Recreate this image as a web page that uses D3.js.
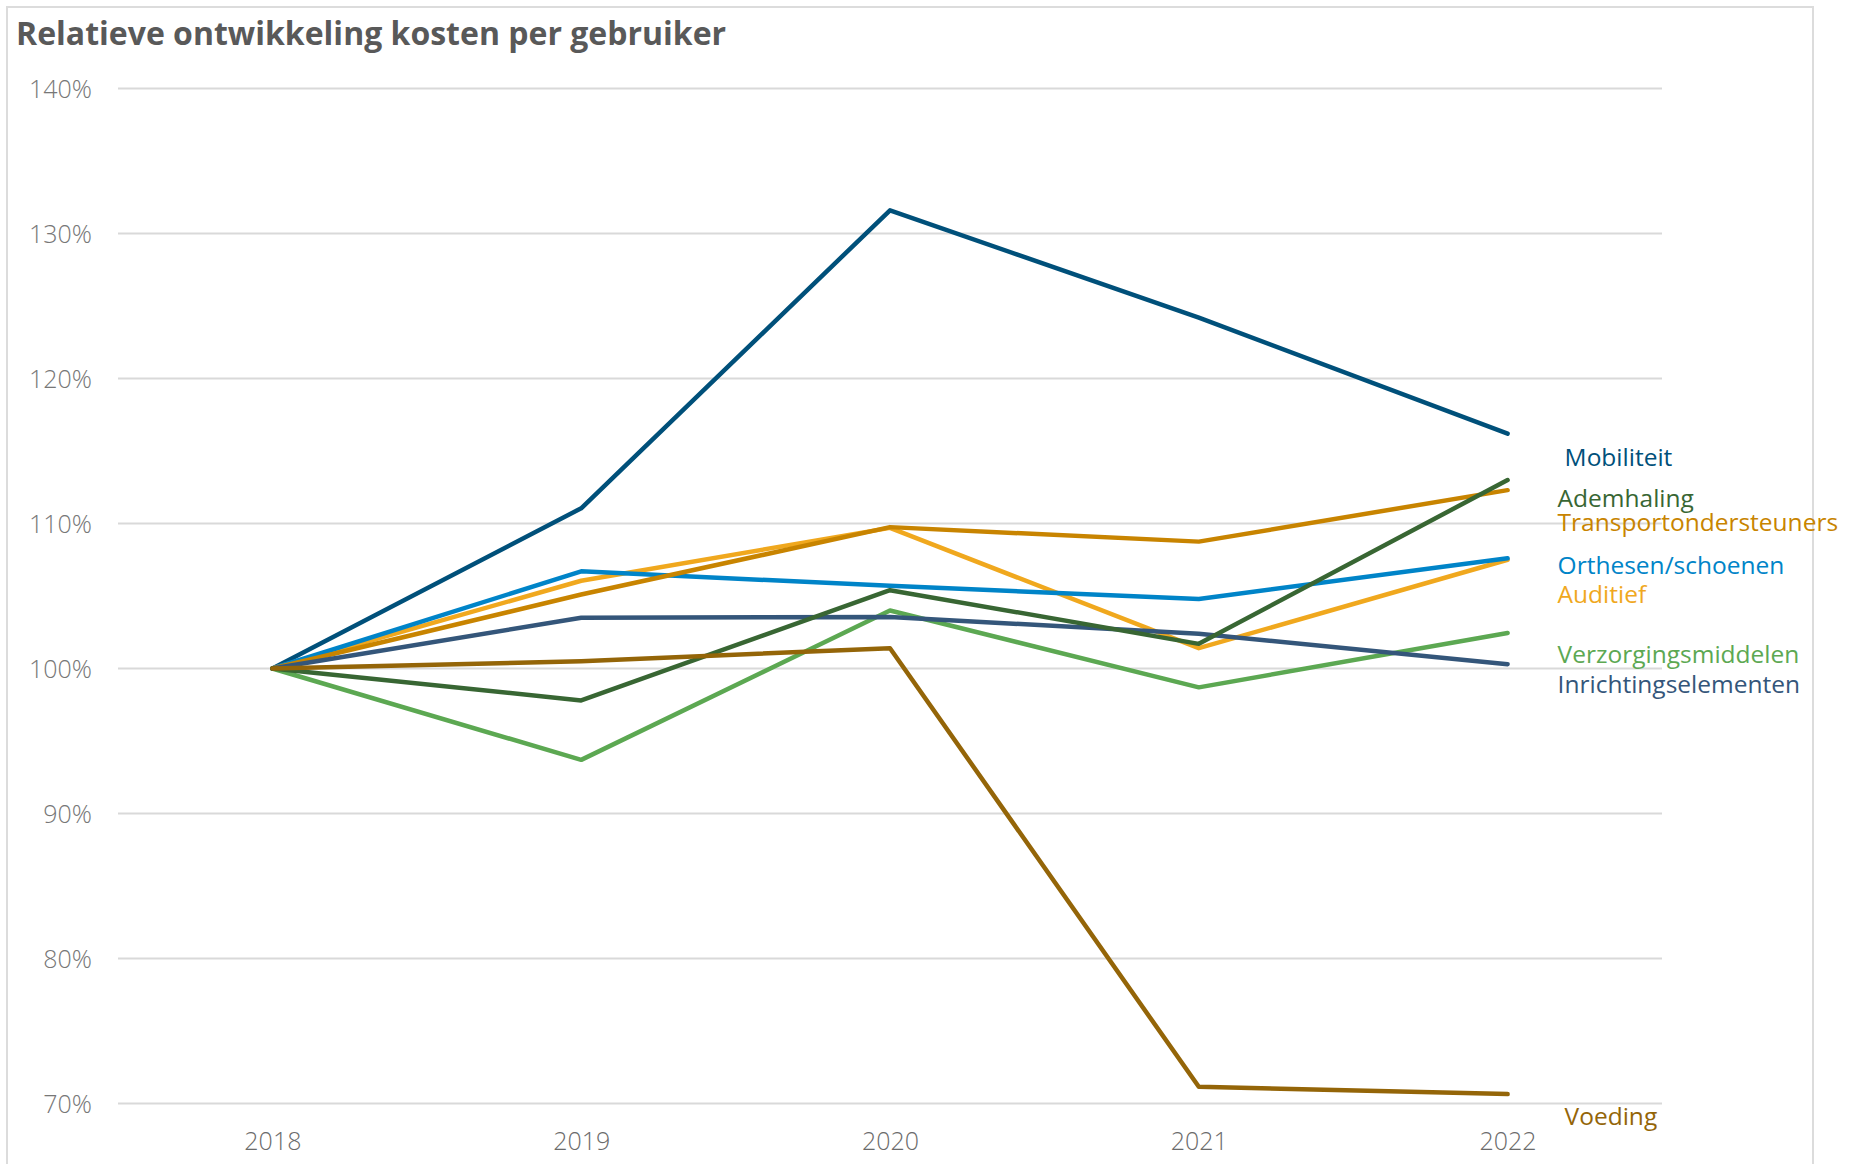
<!DOCTYPE html>
<html>
<head>
<meta charset="utf-8">
<script src="https://cdn.jsdelivr.net/npm/d3@7"></script>
<style>
  body { margin: 0; background: #fff; }
  text { font-family: "Open Sans", sans-serif; }
</style>
</head>
<body>
<svg id="chart"></svg>
<script>
var width = 1849;
var height = 1164;

// data
var years = ["2018", "2019", "2020", "2021", "2022"];
var yTicks = [70, 80, 90, 100, 110, 120, 130, 140];

var series = ["Mobiliteit", "Ademhaling", "Transportondersteuners", "Orthesen/schoenen",
              "Auditief", "Verzorgingsmiddelen", "Inrichtingselementen", "Voeding"];

var mobiliteit        = [100, 111.05, 131.6, 124.2, 116.2];
var ademhaling        = [100, 97.8, 105.4, 101.7, 113.0];
var transport         = [100, 105.1, 109.75, 108.75, 112.3];
var orthesen          = [100, 106.7, 105.7, 104.8, 107.6];
var auditief          = [100, 106.05, 109.7, 101.4, 107.5];
var verzorging        = [100, 93.7, 104.0, 98.7, 102.45];
var inrichting        = [100, 103.5, 103.55, 102.4, 100.3];
var voeding           = [100, 100.5, 101.4, 71.15, 70.65];

// where the end labels sit (in % units)
var labelAt = [114.0, 111.15, 109.45, 106.5, 104.55, 100.4, 98.3, 68.5];

var colors = {
  "Mobiliteit": "#00507a",
  "Ademhaling": "#386633",
  "Transportondersteuners": "#c88400",
  "Orthesen/schoenen": "#0084c8",
  "Auditief": "#f0a81e",
  "Verzorgingsmiddelen": "#5ca852",
  "Inrichtingselementen": "#34567a",
  "Voeding": "#946508"
};

var values = {
  "Mobiliteit": mobiliteit,
  "Ademhaling": ademhaling,
  "Transportondersteuners": transport,
  "Orthesen/schoenen": orthesen,
  "Auditief": auditief,
  "Verzorgingsmiddelen": verzorging,
  "Inrichtingselementen": inrichting,
  "Voeding": voeding
};

// drawing order (last on top)
var drawOrder = ["Mobiliteit", "Auditief", "Orthesen/schoenen", "Transportondersteuners",
                 "Verzorgingsmiddelen", "Inrichtingselementen", "Ademhaling", "Voeding"];

var svg = d3.select("#chart")
  .attr("width", width)
  .attr("height", height);

// frame
svg.append("rect")
  .attr("x", 7).attr("y", 7)
  .attr("width", 1806).attr("height", 1200)
  .attr("fill", "none")
  .attr("stroke", "#dcdcdc")
  .attr("stroke-width", 2);

svg.append("text")
  .attr("x", 16).attr("y", 45)
  .attr("fill", "#595959")
  .attr("font-size", 32)
  .attr("font-weight", 700)
  .text("Relatieve ontwikkeling kosten per gebruiker");

var x = d3.scalePoint()
  .domain(years)
  .range([118, 1662])
  .padding(0.5);

var y = d3.scaleLinear()
  .domain([70, 140])
  .range([1103.5, 88.5]);

// grid
svg.append("g")
  .selectAll("line")
  .data(yTicks)
  .enter().append("line")
  .attr("x1", 118).attr("x2", 1662)
  .attr("y1", function(d){ return y(d); })
  .attr("y2", function(d){ return y(d); })
  .attr("stroke", "#d9d9d9")
  .attr("stroke-width", 2);

// y axis
var yAxis = svg.append("g")
  .attr("transform", "translate(92,0)")
  .call(d3.axisLeft(y).tickValues(yTicks).tickSize(0).tickPadding(0)
    .tickFormat(function(d){ return d + "%"; }));
yAxis.select(".domain").remove();
yAxis.selectAll("text")
  .attr("font-family", "Open Sans")
  .attr("font-size", 25)
  .attr("font-weight", 300)
  .attr("fill", "#777")
  .attr("dy", "0.35em");

// x axis
var xAxis = svg.append("g")
  .attr("transform", "translate(0,1132)")
  .call(d3.axisBottom(x).tickSize(0).tickPadding(0));
xAxis.select(".domain").remove();
xAxis.selectAll("text")
  .attr("font-family", "Open Sans")
  .attr("font-size", 25)
  .attr("font-weight", 300)
  .attr("fill", "#6b6b6b")
  .attr("dy", "0.71em");

var line = d3.line()
  .x(function(d, i){ return x(years[i]); })
  .y(function(d){ return y(d); });

svg.append("g")
  .selectAll("path")
  .data(drawOrder)
  .enter().append("path")
  .attr("d", function(d){ return line(values[d]); })
  .attr("fill", "none")
  .attr("stroke", function(d){ return colors[d]; })
  .attr("stroke-width", 4.5)
  .attr("stroke-linecap", "round")
  .attr("stroke-linejoin", "round");

// end labels
svg.append("g")
  .selectAll("text")
  .data(series)
  .enter().append("text")
  .attr("x", function(d){ return x("2022") + ((d === "Mobiliteit" || d === "Voeding") ? 57 : 50); })
  .attr("y", function(d, i){ return y(labelAt[i]); })
  .attr("fill", function(d){ return colors[d]; })
  .attr("font-size", 24.5)
  .text(function(d){ return d; });
</script>
</body>
</html>
